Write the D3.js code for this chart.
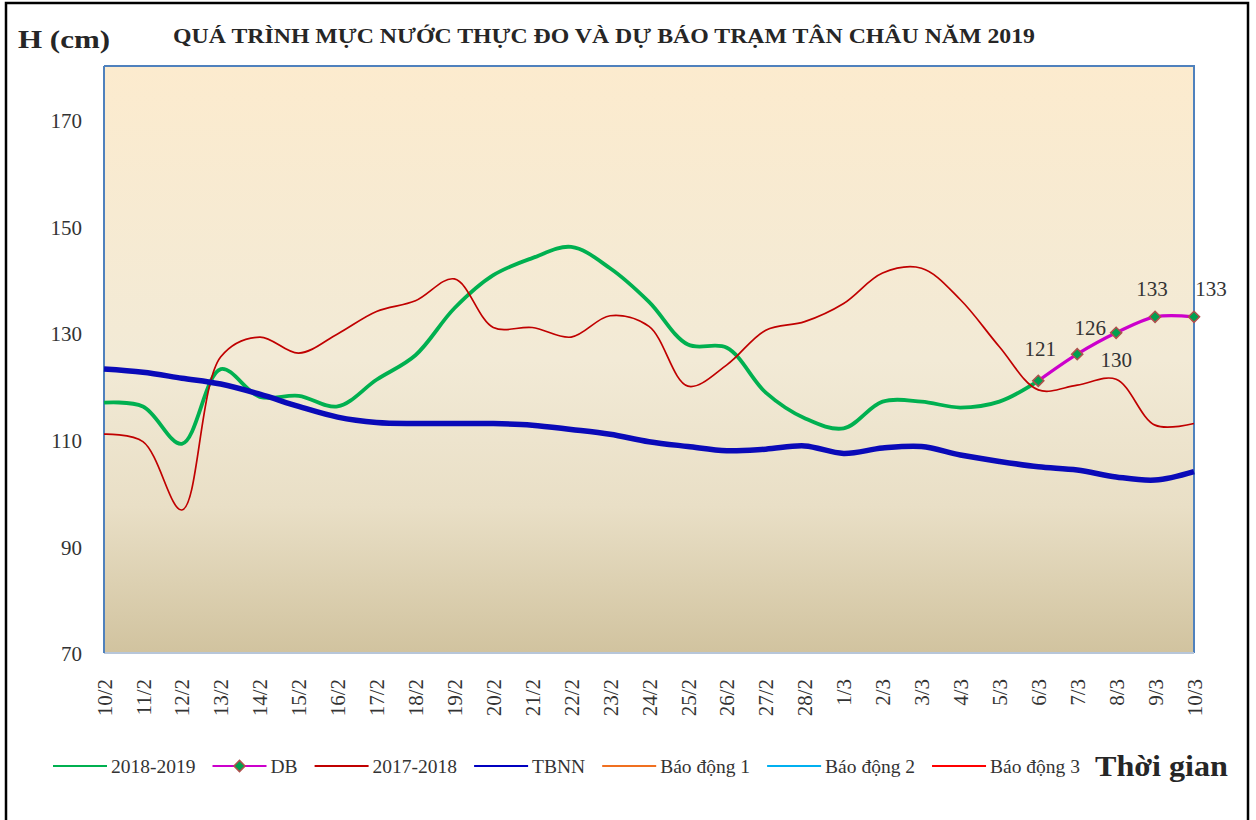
<!DOCTYPE html>
<html>
<head>
<meta charset="utf-8">
<script src="https://cdn.jsdelivr.net/npm/d3@7"></script>
<style>
  html, body { margin: 0; padding: 0; background: #ffffff; }
  svg { display: block; }
  text { font-family: "Liberation Serif", "DejaVu Serif", serif; }
</style>
</head>
<body>
<svg id="chart" width="1256" height="820"></svg>
<script>
// ---------------- data ----------------
const categories = ["10/2","11/2","12/2","13/2","14/2","15/2","16/2","17/2","18/2","19/2",
  "20/2","21/2","22/2","23/2","24/2","25/2","26/2","27/2","28/2",
  "1/3","2/3","3/3","4/3","5/3","6/3","7/3","8/3","9/3","10/3"];

const series1819 = [116.9,116.2,109.2,123.2,118.0,118.2,116.2,121.2,125.8,134.6,
  140.8,144.0,146.1,142.1,135.8,127.8,127.2,118.8,114.0,
  112.1,117.1,117.1,116.0,117.1,121.0,null,null,null,null];

const seriesDB = [null,null,null,null,null,null,null,null,null,null,
  null,null,null,null,null,null,null,null,null,
  null,null,null,null,null,121,126,130,133,133];

const series1718 = [111.0,109.6,96.8,125.5,129.2,126.2,129.8,134.0,136.0,140.1,
  131.0,131.0,129.2,133.2,131.2,120.0,124.0,130.5,132.1,
  135.5,141.2,142.1,136.2,127.4,119.3,120.2,121.3,112.7,113.0];

const seriesTBNN = [123.2,122.6,121.5,120.4,118.5,116.2,114.2,113.2,113.0,113.0,
  113.0,112.7,111.9,111.0,109.6,108.7,107.9,108.2,108.8,
  107.4,108.4,108.7,107.1,105.9,104.9,104.3,103.0,102.4,104.0];

const yTicks = [70, 90, 110, 130, 150, 170];
const legendNames = ["2018-2019","DB","2017-2018","TBNN","Báo động 1","Báo động 2","Báo động 3"];

const titleText = "QUÁ TRÌNH MỰC NƯỚC THỰC ĐO VÀ DỰ BÁO TRẠM TÂN CHÂU NĂM 2019";
const yTitle = "H (cm)";
const xTitle = "Thời gian";

// ---------------- layout ----------------
const svg = d3.select("#chart");
const plot = { left: 104, right: 1194, top: 66, bottom: 653 };

const x = d3.scalePoint().domain(categories).range([plot.left, plot.right]).padding(0);
const y = d3.scaleLinear().domain([70, 180]).range([plot.bottom, plot.top]);

// outer frame
svg.append("rect").attr("x", 6).attr("y", 3).attr("width", 1242).attr("height", 840)
  .attr("fill", "none").attr("stroke", "#000").attr("stroke-width", 2.5);

// gradient background
const defs = svg.append("defs");
const grad = defs.append("linearGradient").attr("id", "bg").attr("x1", 0).attr("y1", 0).attr("x2", 0).attr("y2", 1);
grad.append("stop").attr("offset", "0%").attr("stop-color", "#FCEBCE");
grad.append("stop").attr("offset", "50%").attr("stop-color", "#F2EAD6");
grad.append("stop").attr("offset", "75%").attr("stop-color", "#E9DFC6");
grad.append("stop").attr("offset", "100%").attr("stop-color", "#D1C39F");

svg.append("rect").attr("x", plot.left).attr("y", plot.top)
  .attr("width", plot.right - plot.left).attr("height", plot.bottom - plot.top)
  .attr("fill", "url(#bg)");

// plot borders
svg.append("line").attr("x1", plot.left).attr("x2", plot.right + 1).attr("y1", plot.top).attr("y2", plot.top)
  .attr("stroke", "#4F81BD").attr("stroke-width", 2);
svg.append("line").attr("x1", plot.right).attr("x2", plot.right).attr("y1", plot.top).attr("y2", plot.bottom)
  .attr("stroke", "#4F81BD").attr("stroke-width", 2);
svg.append("line").attr("x1", plot.left).attr("x2", plot.right).attr("y1", plot.bottom).attr("y2", plot.bottom)
  .attr("stroke", "#B7C6D9").attr("stroke-width", 2);
svg.append("line").attr("x1", plot.left).attr("x2", plot.left).attr("y1", plot.top).attr("y2", plot.bottom)
  .attr("stroke", "#4F81BD").attr("stroke-width", 2);

// y axis
const yAxis = svg.append("g").attr("transform", `translate(${plot.left},0)`)
  .call(d3.axisLeft(y).tickValues(yTicks).tickSize(0).tickPadding(22).tickFormat(d3.format("d")));
yAxis.select(".domain").remove();
yAxis.selectAll("text").attr("font-family", "Liberation Serif").attr("font-size", 21)
  .attr("fill", "#333").attr("dy", "0.38em");

// x axis (rotated labels)
const xAxis = svg.append("g").attr("transform", `translate(0,${plot.bottom})`)
  .call(d3.axisBottom(x).tickSize(0));
xAxis.select(".domain").remove();
xAxis.selectAll("text")
  .attr("font-family", "Liberation Serif").attr("font-size", 21).attr("fill", "#333")
  .attr("text-anchor", "end")
  .attr("transform", "translate(0,26) rotate(-90)")
  .attr("x", 0).attr("y", 0).attr("dy", "0.34em");

// lines
const curve = d3.curveCatmullRom.alpha(0.5);
const lineGen = d3.line()
  .defined(d => d[1] !== null)
  .x(d => x(d[0])).y(d => y(d[1])).curve(curve);
const pairs = arr => categories.map((c, i) => [c, arr[i]]);

svg.append("path").datum(pairs(series1819)).attr("d", lineGen)
  .attr("fill", "none").attr("stroke", "#00B050").attr("stroke-width", 3.8).attr("stroke-linejoin", "round");

svg.append("path").datum(pairs(series1718)).attr("d", lineGen)
  .attr("fill", "none").attr("stroke", "#C00000").attr("stroke-width", 1.7).attr("stroke-linejoin", "round");

svg.append("path").datum(pairs(seriesTBNN)).attr("d", lineGen)
  .attr("fill", "none").attr("stroke", "#0A0AB8").attr("stroke-width", 5.5).attr("stroke-linejoin", "round");

const dbPts = pairs(seriesDB).filter(d => d[1] !== null);
svg.append("path").datum(dbPts).attr("d", lineGen)
  .attr("fill", "none").attr("stroke", "#CC00CC").attr("stroke-width", 3.2);

const marker = d3.symbol().type(d3.symbolSquare).size(62);
svg.selectAll(".mk").data(dbPts).enter().append("path")
  .attr("d", marker)
  .attr("transform", d => `translate(${x(d[0])},${y(d[1])}) rotate(45)`)
  .attr("fill", "#00A050").attr("stroke", "#B0504D").attr("stroke-width", 1.5);

// data labels for DB (placement offsets)
const labelOffsets = [[2, -25], [13, -19], [0, 34], [-3, -21], [17, -21]];
svg.selectAll(".dbl").data(dbPts).enter().append("text")
  .attr("x", (d, i) => x(d[0]) + labelOffsets[i][0])
  .attr("y", (d, i) => y(d[1]) + labelOffsets[i][1])
  .attr("text-anchor", "middle").attr("font-size", 21).attr("fill", "#333")
  .text(d => d3.format("d")(d[1]));

// titles
svg.append("text").attr("x", 18).attr("y", 48).attr("font-size", 26).attr("font-weight", "bold")
  .attr("fill", "#262626").attr("textLength", 92).attr("lengthAdjust", "spacingAndGlyphs").text(yTitle);
svg.append("text").attr("x", 173).attr("y", 43).attr("font-size", 20).attr("font-weight", "bold")
  .attr("fill", "#262626").attr("textLength", 862).attr("lengthAdjust", "spacingAndGlyphs").text(titleText);

// legend
const legendColors = ["#00B050", "#CC00CC", "#C00000", "#0000C0", "#F07020", "#00B0F0", "#FF0000"];
const legendY = 766;
let lx = 53;
legendNames.forEach((name, i) => {
  const g = svg.append("g");
  g.append("line").attr("x1", lx).attr("x2", lx + 54).attr("y1", legendY).attr("y2", legendY)
    .attr("stroke", legendColors[i]).attr("stroke-width", 2.2);
  if (i === 1) {
    g.append("path").attr("d", marker)
      .attr("transform", `translate(${lx + 27},${legendY}) rotate(45)`)
      .attr("fill", "#00A050").attr("stroke", "#B0504D").attr("stroke-width", 1.5);
  }
  const t = g.append("text").attr("x", lx + 58).attr("y", legendY + 7)
    .attr("font-size", 19.5).attr("fill", "#333").text(name);
  lx = lx + 58 + t.node().getComputedTextLength() + 17;
});

svg.append("text").attr("x", 1095).attr("y", 776).attr("font-size", 30).attr("font-weight", "bold")
  .attr("fill", "#262626").attr("textLength", 133).attr("lengthAdjust", "spacingAndGlyphs").text(xTitle);
</script>
</body>
</html>
